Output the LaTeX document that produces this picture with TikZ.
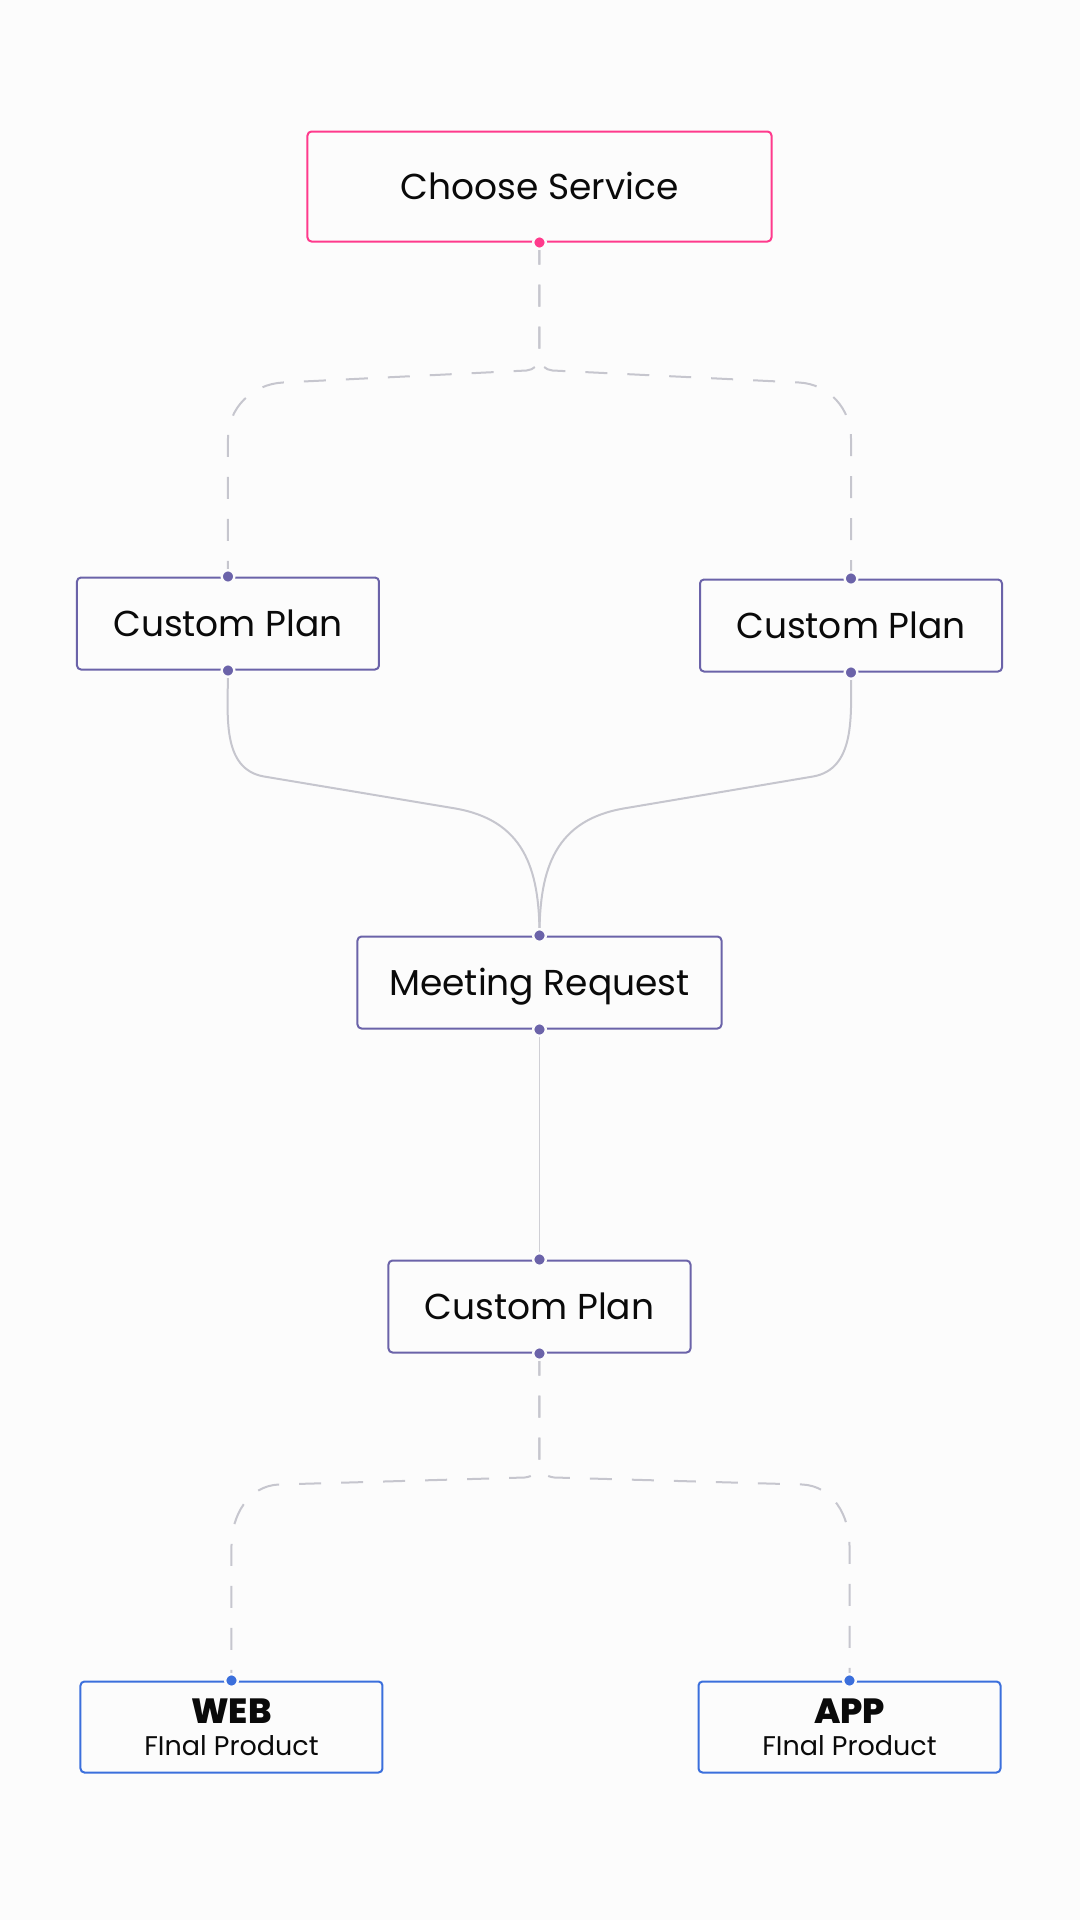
\documentclass[tikz,border=0pt]{standalone}
\usepackage{fontspec}
\setmainfont{Poppins}
\newfontfamily\heavyfont{Poppins}[UprightFont={* ExtraBold}]
\usetikzlibrary{positioning,calc,backgrounds}
\definecolor{svcPink}{HTML}{FF3A8C}
\definecolor{planPurple}{HTML}{6B63A9}
\definecolor{prodBlue}{HTML}{3B6FDC}
\definecolor{linkGrey}{HTML}{C6C6CE}
\definecolor{pageWhite}{HTML}{FCFCFC}
\definecolor{inkBlack}{HTML}{0A0A0A}

\begin{document}
\begin{tikzpicture}[
  line width=2pt,
  every node/.style={inner sep=0pt},
  % --- Reusable styles -------------------------------------------------------
  box/.style={                   % rounded card, border colour via #1
    rectangle, rounded corners=4pt,
    draw=#1, fill=pageWhite, text=inkBlack, align=center,
  },
  svcbox/.style={box=svcPink, minimum width=464pt, minimum height=110pt,
    font=\fontsize{36pt}{43pt}\selectfont, text height=25pt, text depth=0pt},
  planbox/.style={box=planPurple, minimum width=302pt, minimum height=92pt,
    font=\fontsize{36pt}{43pt}\selectfont, text height=25pt, text depth=0pt},
  prodbox/.style={box=prodBlue, minimum width=302pt, minimum height=91pt,
    font=\fontsize{27pt}{31pt}\selectfont},
  port/.style={fill=#1, draw=pageWhite, line width=2.4pt},
  linkdash/.style={draw=linkGrey, line width=2pt, dash pattern=on 22pt off 20pt},
  linksolid/.style={draw=linkGrey, line width=2pt},
  linkthin/.style={draw=linkGrey!85, line width=1.3pt},
]

% --- Nodes -------------------------------------------------------------------
\node[svcbox]                                      (cs)    {Choose Service};
\node[planbox, below=334pt of cs, xshift=-311.5pt] (planL) {Custom Plan};
\node[planbox, below=336pt of cs, xshift=311.5pt]  (planR) {Custom Plan};
\node[planbox, minimum width=364pt, below=693pt of cs] (meet) {Meeting Request};
\node[planbox, below=230pt of meet]                (planM) {Custom Plan};
\node[prodbox, below=327pt of planM, xshift=-308pt] (web)
  {{\fontsize{35pt}{31pt}\heavyfont WEB}\\[1pt]FInal Product};
\node[prodbox, below=327pt of planM, xshift=310pt]  (app)
  {{\fontsize{35pt}{31pt}\heavyfont APP}\\[1pt]FInal Product};

% --- Page --------------------------------------------------------------------
\begin{scope}[on background layer]
  \fill[pageWhite] ($(cs.center)+(-539.5pt,186.5pt)$) rectangle ($(cs.center)+(540.5pt,-1733.5pt)$);
\end{scope}

% --- Fork: service -> plans --------------------------------------------------
\draw[linkdash] (cs.south) -- ++(0,-115pt) to[out=-90,in=5] ++(-13pt,-13pt)
  -- ($(planL.north)+(55pt,194pt)$) to[out=183,in=90] ($(planL.north)+(0,138pt)$) -- (planL.north);
\draw[linkdash] (cs.south) -- ++(0,-115pt) to[out=-90,in=175] ++(13pt,-13pt)
  -- ($(planR.north)+(-52pt,196pt)$) to[out=-3,in=90] ($(planR.north)+(0,140pt)$) -- (planR.north);

% --- Merge: plans -> meeting -------------------------------------------------
\draw[linksolid] (planL.south) to[out=-90,in=170] ($(planL.south)+(36pt,-106pt)$)
  -- ($(meet.north)+(-84pt,127pt)$) to[out=-10,in=90,looseness=1.15] (meet.north);
\draw[linksolid] (planR.south) to[out=-90,in=10] ($(planR.south)+(-38pt,-104pt)$)
  -- ($(meet.north)+(84pt,127pt)$) to[out=190,in=90,looseness=1.15] (meet.north);
\draw[linkthin] (meet.south) -- (planM.north);

% --- Fork: plan -> products --------------------------------------------------
\draw[linkdash] (planM.south) -- ++(0,-110pt) to[out=-90,in=5] ++(-15pt,-14pt)
  -- ($(web.north)+(47pt,196pt)$) to[out=183,in=90] ($(web.north)+(0,135pt)$) -- (web.north);
\draw[linkdash] (planM.south) -- ++(0,-110pt) to[out=-90,in=175] ++(15pt,-14pt)
  -- ($(app.north)+(-47pt,196pt)$) to[out=-3,in=90] ($(app.north)+(0,135pt)$) -- (app.north);

% --- Ports -------------------------------------------------------------------
\filldraw[port=svcPink] (cs.south) circle (6.3pt);
\foreach \n/\a in {planL/north,planL/south,planR/north,planR/south,
                   meet/north,meet/south,planM/north,planM/south}
  \filldraw[port=planPurple] (\n.\a) circle (6.3pt);
\foreach \n in {web,app}
  \filldraw[port=prodBlue] (\n.north) circle (6.3pt);

\end{tikzpicture}
\end{document}
